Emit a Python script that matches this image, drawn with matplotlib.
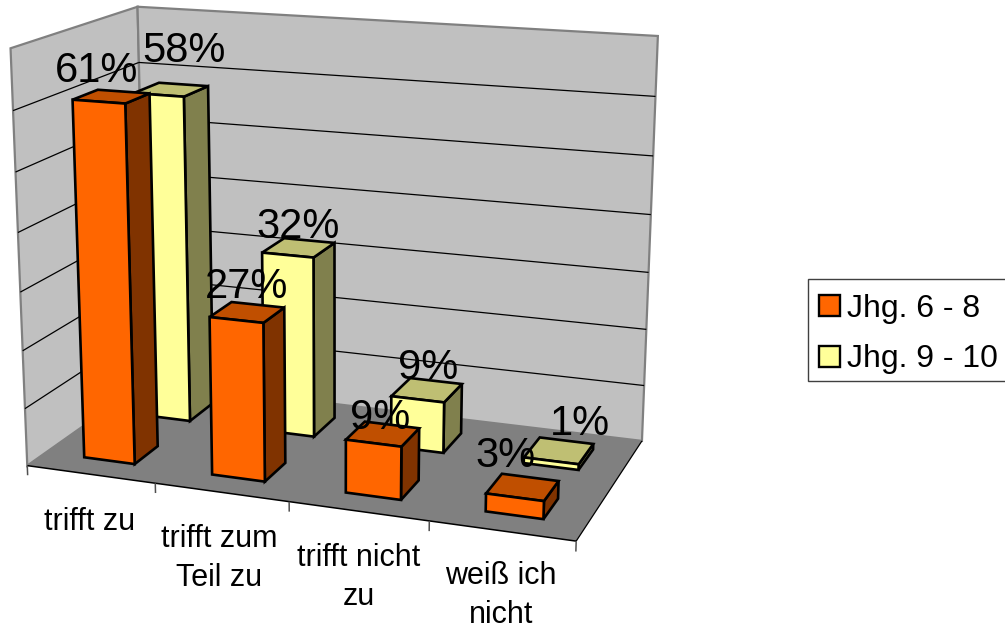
import numpy as np
import matplotlib
matplotlib.use("Agg")
import matplotlib.pyplot as plt
from matplotlib.patches import Polygon, Rectangle

# ---- data
categories = ["trifft zu", "trifft zum\nTeil zu", "trifft nicht\nzu", "weiß ich\nnicht"]
series_names = ["Jhg. 6 - 8", "Jhg. 9 - 10"]
jhg_6_8 = [61, 27, 9, 3]
jhg_9_10 = [58, 32, 9, 1]
z_ticks = [0, 10, 20, 30, 40, 50, 60, 70]

# ---- layout
W, H = 1005, 629
ZMAX = z_ticks[-1]
NCAT = len(categories)
# scene box corners (world) -> pixel positions, camera is fitted from these
box_world = [(0, 0, 0), (NCAT, 0, 0), (NCAT, 1, 0), (0, 1, 0),
             (0, 0, ZMAX), (NCAT, 1, ZMAX), (0, 1, ZMAX)]
box_px = [(27, 466), (576, 541), (642, 441), (147, 381),
          (11, 48), (658, 36), (137, 7)]


def fit_camera(world, px):
    rows, rhs = [], []
    for (X, Y, Z), (u, v) in zip(world, px):
        rows.append([X, Y, Z, 1, 0, 0, 0, 0, -u*X, -u*Y, -u*Z]); rhs.append(u)
        rows.append([0, 0, 0, 0, X, Y, Z, 1, -v*X, -v*Y, -v*Z]); rhs.append(v)
    p = np.linalg.lstsq(np.array(rows, float), np.array(rhs, float), rcond=None)[0]
    return np.append(p, 1).reshape(3, 4)


CAM = fit_camera(box_world, box_px)


def proj(x, y, z):
    q = CAM @ np.array([x, y, z, 1.0])
    return q[0]/q[2], q[1]/q[2]


fig = plt.figure(figsize=(W/100, H/100), dpi=100)
ax = fig.add_axes([0, 0, 1, 1])
ax.set_xlim(0, W)
ax.set_ylim(H, 0)
ax.axis("off")

WALL, FLOOR, GRAY = "#C0C0C0", "#808080", "#808080"
SANS = ["Liberation Sans"]


def poly(pts, fc, ec="none", lw=0.0, zo=1):
    ax.add_patch(Polygon([proj(*p) for p in pts], closed=True, fc=fc, ec=ec, lw=lw,
                         zorder=zo, joinstyle="miter"))


def line(a, b, color, lw, zo=2):
    pa, pb = proj(*a), proj(*b)
    ax.plot([pa[0], pb[0]], [pa[1], pb[1]], color=color, lw=lw, zorder=zo,
            solid_capstyle="butt")


# walls and floor
poly([(0, 0, 0), (0, 1, 0), (0, 1, ZMAX), (0, 0, ZMAX)], WALL, GRAY, 1.6)
poly([(0, 1, 0), (NCAT, 1, 0), (NCAT, 1, ZMAX), (0, 1, ZMAX)], WALL, GRAY, 1.6)
poly([(0, 0, 0), (NCAT, 0, 0), (NCAT, 1, 0), (0, 1, 0)], FLOOR, zo=1.5)
for z in z_ticks[1:-1]:
    line((0, 0, z), (0, 1, z), "#000000", 0.9)
    line((0, 1, z), (NCAT, 1, z), "#000000", 0.9)
line((0, 0, 0), (NCAT, 0, 0), "#000000", 1.1, 3)
line((NCAT, 0, 0), (NCAT, 1, 0), "#000000", 0.9, 3)
for i in range(NCAT + 1):
    line((i, 0, 0), (i, 0, -1.7), "#505050", 1.1, 3)

BAR_X = (0.305, 0.705)
DEPTH = [(0.145, 0.34), (0.63, 0.85)]
STYLES = [("#FF6600", "#C04F00", "#803300"), ("#FFFF99", "#BFBF73", "#80804D")]


def bar(cat, row, value, zo):
    x0, x1 = cat + BAR_X[0], cat + BAR_X[1]
    y0, y1 = DEPTH[row]
    front, top, side = STYLES[row]
    kw = dict(ec="#000000", lw=1.9, zo=zo)
    poly([(x1, y0, 0), (x1, y1, 0), (x1, y1, value), (x1, y0, value)], side, **kw)
    poly([(x0, y0, value), (x1, y0, value), (x1, y1, value), (x0, y1, value)], top, **kw)
    poly([(x0, y0, 0), (x1, y0, 0), (x1, y0, value), (x0, y0, value)], front, **kw)


for i, v in enumerate(jhg_9_10):
    bar(i, 1, v, 4 + i*0.01)
for i, v in enumerate(jhg_6_8):
    bar(i, 0, v, 5 + i*0.01)

# data labels: pixel offset from the projected centre of each bar top
label_offset_6_8 = [(-15, -15), (-1, -14), (-3, -5), (-17, -20)]
label_offset_9_10 = [(13, -28), (0, -10), (1, -11), (21, -16)]
for row, (vals, offs) in enumerate(zip((jhg_6_8, jhg_9_10), (label_offset_6_8, label_offset_9_10))):
    for i, (v, (dx, dy)) in enumerate(zip(vals, offs)):
        cx, cy = proj(i + sum(BAR_X)/2, sum(DEPTH[row])/2, v)
        ax.text(cx + dx, cy + dy, f"{v}%", family=SANS, fontsize=30, ha="center",
                va="baseline", color="#000000", zorder=8)

# category labels (x centre, baseline of last line)
cat_anchor = [(90, 530), (219, 586), (359, 605), (501, 623)]
for name, (x, y) in zip(categories, cat_anchor):
    ax.text(x, y, name, family=SANS, fontsize=22, ha="center", va="baseline",
            linespacing=1.38, color="#000000", zorder=8)

# legend
ax.add_patch(Rectangle((808, 279), 210, 102, fc="#FFFFFF", ec="#404040", lw=1.0, zorder=6))
for name, color, top, base in zip(series_names, (STYLES[0][0], STYLES[1][0]), (295, 346), (317, 367)):
    ax.add_patch(Rectangle((819, top), 21, 21, fc=color, ec="#000000", lw=1.7, zorder=7))
    ax.text(847, base, name, family=SANS, fontsize=23, ha="left", va="baseline",
            color="#000000", zorder=8)

fig.savefig("out.png", dpi=100)
